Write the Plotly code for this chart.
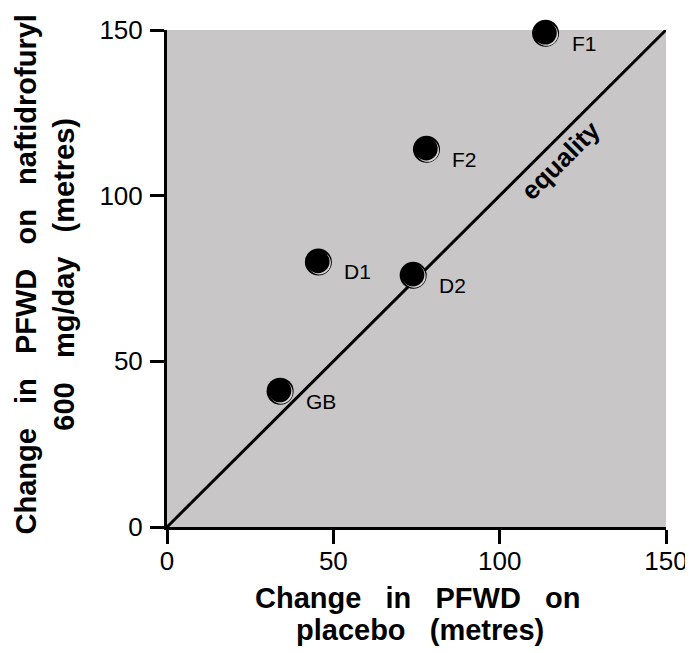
import plotly.graph_objects as go

labels = ["F1", "F2", "D1", "D2", "GB"]
placebo = [113.8, 78.0, 45.5, 74.0, 34.0]
naftidrofuryl = [149.0, 114.0, 80.0, 76.0, 41.0]
ticks = [0, 50, 100, 150]

SP = "\u00a0 \u00a0"
FONT = "Liberation Sans, Arial"

fig = go.Figure()
# equality line
fig.add_trace(go.Scatter(x=[0, 150], y=[0, 150], mode="lines",
                         line=dict(color="black", width=3), hoverinfo="skip"))
# shaded markers: outer black, light crescent, inner black
px = 150 / 499.0
fig.add_trace(go.Scatter(x=placebo, y=naftidrofuryl, mode="markers", cliponaxis=False,
                         marker=dict(size=27, color="black", line=dict(width=0))))
fig.add_trace(go.Scatter(x=[v + 1.0 * px for v in placebo], y=[v - 1.0 * px for v in naftidrofuryl],
                         mode="markers", cliponaxis=False,
                         marker=dict(size=23, color="#d8d8d8", line=dict(width=0))))
fig.add_trace(go.Scatter(x=[v - 0.3 * px for v in placebo], y=[v + 0.3 * px for v in naftidrofuryl],
                         mode="markers", cliponaxis=False,
                         marker=dict(size=23, color="black", line=dict(width=0))))

for lab, x, y in zip(labels, placebo, naftidrofuryl):
    fig.add_annotation(x=x, y=y, text=lab, showarrow=False, xanchor="left", yanchor="middle",
                       xshift=24, yshift=-10, font=dict(size=21, color="black", family=FONT))

fig.add_annotation(x=118.4, y=110.8, text="<b>equality</b>", showarrow=False, textangle=-45,
                   font=dict(size=26, color="black", family=FONT))

# axis titles (x title as two separately placed lines)
fig.add_annotation(xref="paper", yref="paper", x=0.503, y=-0.1429, xanchor="center", yanchor="middle",
                   showarrow=False,
                   text="<b>Change" + SP + "in" + SP + "PFWD" + SP + "on</b>",
                   font=dict(size=29, color="black", family=FONT))
fig.add_annotation(xref="paper", yref="paper", x=0.507, y=-0.2072, xanchor="center", yanchor="middle",
                   showarrow=False,
                   text="<b>placebo" + SP + "(metres)</b>",
                   font=dict(size=29, color="black", family=FONT))
fig.add_annotation(xref="paper", yref="paper", x=-0.2435, y=0.509, xanchor="center", yanchor="middle",
                   showarrow=False, textangle=-90,
                   text="<b>Change" + SP + "in" + SP + "PFWD" + SP + "on" + SP + "naftidrofuryl<br>600" + SP
                        + "mg/day" + SP + "(metres)</b>",
                   font=dict(size=29, color="black", family=FONT))

fig.update_layout(
    width=685, height=645,
    margin=dict(l=159, r=27, t=22, b=126),
    paper_bgcolor="white", plot_bgcolor="#c8c6c6",
    showlegend=False,
    font=dict(family=FONT, color="black"),
)
fig.update_xaxes(range=[0, 150], tickvals=ticks, showgrid=False, zeroline=False, automargin=False,
                 showline=True, linecolor="black", linewidth=3,
                 ticks="outside", ticklen=14, tickwidth=3, tickcolor="black",
                 tickfont=dict(size=26), ticklabelstandoff=-5)
fig.update_yaxes(range=[0, 150], tickvals=ticks, showgrid=False, zeroline=False, automargin=False,
                 showline=True, linecolor="black", linewidth=3,
                 ticks="outside", ticklen=14, tickwidth=3, tickcolor="black",
                 tickfont=dict(size=26), ticklabelstandoff=2)

fig.write_html("out.html")
